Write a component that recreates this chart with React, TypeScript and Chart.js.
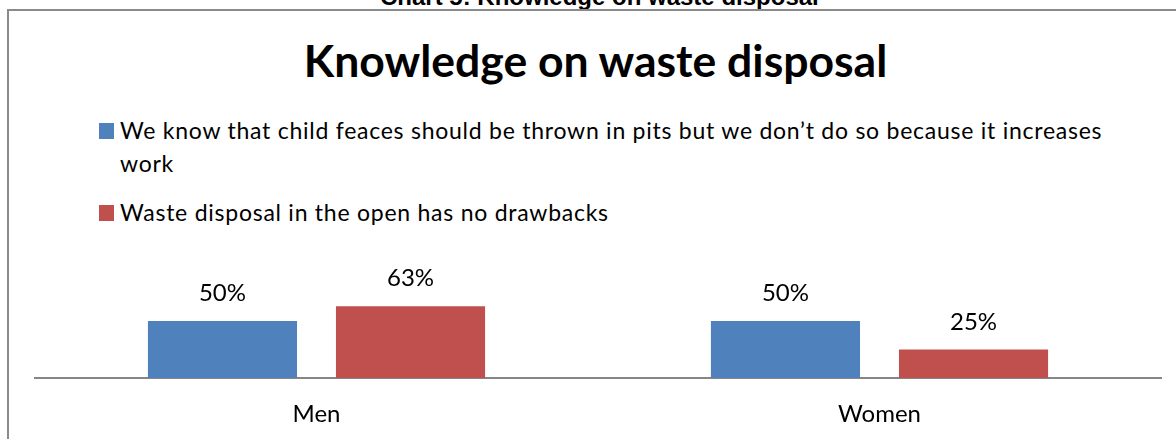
import React, { useEffect, useRef } from "react";
import { Chart, registerables } from "chart.js";

Chart.register(...registerables);

const captionText = "Chart 5: Knowledge on waste disposal";
const titleText = "Knowledge on waste disposal";
const categories = ["Men", "Women"];
const seriesNames = [
  "We know that child feaces should be thrown in pits but we don’t do so because it increases work",
  "Waste disposal in the open has no drawbacks",
];
const knowValues = [0.5, 0.5];
const drawbackValues = [0.63, 0.25];
const seriesColors = ["#4F81BD", "#C0504D"];

const FONT = "Lato, 'Noto Sans', sans-serif";

const dataLabelPlugin = {
  id: "dataLabels",
  afterDatasetsDraw(chart: any) {
    const ctx = chart.ctx;
    ctx.save();
    ctx.font = `24px ${FONT}`;
    ctx.fillStyle = "#000";
    ctx.textAlign = "center";
    ctx.textBaseline = "alphabetic";
    chart.data.datasets.forEach((ds: any, i: number) => {
      const meta = chart.getDatasetMeta(i);
      meta.data.forEach((bar: any, j: number) => {
        const v = ds.data[j];
        ctx.fillText(Math.round(v * 100) + "%", bar.x, bar.y - 20);
      });
    });
    ctx.restore();
  },
};

export default function App() {
  const canvasRef = useRef<HTMLCanvasElement | null>(null);

  useEffect(() => {
    if (!canvasRef.current) return;
    const chart = new Chart(canvasRef.current, {
      type: "bar",
      data: {
        labels: categories,
        datasets: [
          { label: seriesNames[0], data: knowValues, backgroundColor: seriesColors[0] },
          { label: seriesNames[1], data: drawbackValues, backgroundColor: seriesColors[1] },
        ],
      },
      options: {
        animation: false,
        responsive: false,
        maintainAspectRatio: false,
        layout: { padding: { left: 35, right: 15, top: 24, bottom: 20.2 } },
        categoryPercentage: 0.668,
        barPercentage: 0.793,
        plugins: {
          legend: { display: false },
          title: { display: false },
          tooltip: { enabled: false },
        },
        scales: {
          x: {
            grid: { display: false, drawTicks: false },
            border: { display: true, color: "#868686", width: 2 },
            ticks: { color: "#000", font: { family: FONT, size: 24 }, padding: 21.5 },
          },
          y: { display: false, min: 0, max: 1 },
        },
      } as any,
      plugins: [dataLabelPlugin],
    });
    return () => chart.destroy();
  }, []);

  return (
    <div
      style={{
        position: "fixed",
        left: 0,
        top: 0,
        width: 1176,
        height: 439,
        overflow: "hidden",
        background: "#fff",
      }}
    >
      <div
        style={{
          position: "absolute",
          left: 380,
          top: -15,
          whiteSpace: "nowrap",
          font: "bold 24px 'Liberation Sans', Arial, sans-serif",
          lineHeight: "24px",
          color: "#000",
        }}
      >
        {captionText}
      </div>
      <div
        style={{
          position: "absolute",
          left: 7,
          top: 9,
          width: 1220,
          height: 520,
          border: "2px solid #8a8a8a",
          boxSizing: "border-box",
        }}
      />
      <div
        style={{
          position: "absolute",
          left: 0,
          width: 1191,
          top: 33.1,
          textAlign: "center",
          font: `bold 44.5px ${FONT}`,
          lineHeight: "normal",
          color: "#000",
          whiteSpace: "nowrap",
        }}
      >
        {titleText}
      </div>
      {seriesNames.map((name, i) => (
        <div key={i}>
          <div
            style={{
              position: "absolute",
              left: 99,
              top: i === 0 ? 123 : 205,
              width: 15,
              height: 16,
              background: seriesColors[i],
            }}
          />
          <div
            style={{
              position: "absolute",
              left: 120,
              top: i === 0 ? 113.9 : 195.6,
              width: 1010,
              font: `23px ${FONT}`,
              letterSpacing: "0.75px",
              lineHeight: "33px",
              color: "#000",
            }}
          >
            {name}
          </div>
        </div>
      ))}
      <canvas
        ref={canvasRef}
        width={1176}
        height={230}
        style={{ position: "absolute", left: 0, top: 240, display: "block" }}
      />
    </div>
  );
}
